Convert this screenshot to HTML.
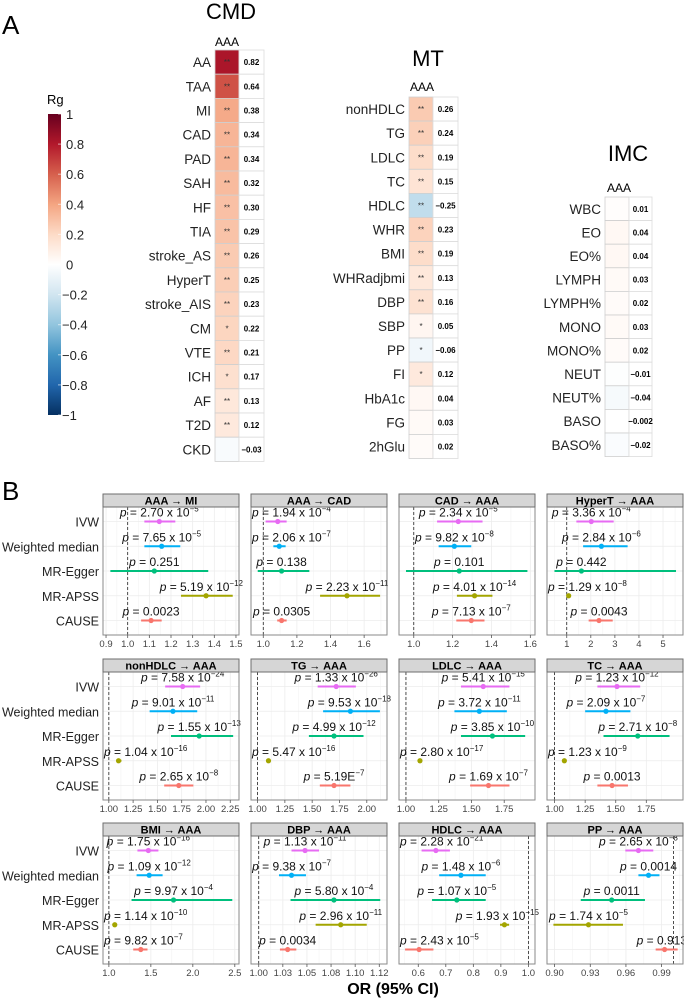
<!DOCTYPE html>
<html><head><meta charset="utf-8"><style>
html,body{margin:0;padding:0;background:#fff;}
svg{display:block;font-family:"Liberation Sans",Arial,sans-serif;}
</style></head><body>
<svg id="fig" width="684" height="1000" viewBox="0 0 684 1000" xmlns="http://www.w3.org/2000/svg">
<defs>
<linearGradient id="rgGrad" x1="0" y1="0" x2="0" y2="1">
<stop offset="0" stop-color="#67001f"/><stop offset="0.1" stop-color="#b2182b"/><stop offset="0.2" stop-color="#d6604d"/><stop offset="0.3" stop-color="#f4a582"/><stop offset="0.4" stop-color="#fddbc7"/><stop offset="0.5" stop-color="#ffffff"/><stop offset="0.6" stop-color="#d1e5f0"/><stop offset="0.7" stop-color="#92c5de"/><stop offset="0.8" stop-color="#4393c3"/><stop offset="0.9" stop-color="#2166ac"/><stop offset="1" stop-color="#053061"/>
</linearGradient>
</defs>
<text x="2" y="34" font-size="26">A</text>
<text x="2" y="500" font-size="26">B</text>
<text x="47" y="104" font-size="13">Rg</text>
<rect x="48" y="114" width="13" height="301" fill="url(#rgGrad)"/>
<g id="cbTicks"></g>
<g id="heat"></g>
<g id="forest"></g>
<text x="393" y="994" font-size="16" font-weight="bold" text-anchor="middle">OR (95% CI)</text>
</svg>
<script>
// ---------- heatmap data ----------
const cmdTraits=["AA","TAA","MI","CAD","PAD","SAH","HF","TIA","stroke_AS","HyperT","stroke_AIS","CM","VTE","ICH","AF","T2D","CKD"];
const cmdRg=[0.82,0.64,0.38,0.34,0.34,0.32,0.30,0.29,0.26,0.25,0.23,0.22,0.21,0.17,0.13,0.12,-0.03];
const cmdStars=["**","**","**","**","**","**","**","**","**","**","**","*","**","*","**","**",""];
const mtTraits=["nonHDLC","TG","LDLC","TC","HDLC","WHR","BMI","WHRadjbmi","DBP","SBP","PP","FI","HbA1c","FG","2hGlu"];
const mtRg=[0.26,0.24,0.19,0.15,-0.25,0.23,0.19,0.13,0.16,0.05,-0.06,0.12,0.04,0.03,0.02];
const mtStars=["**","**","**","**","**","**","**","**","**","*","*","*","","",""];
const imcTraits=["WBC","EO","EO%","LYMPH","LYMPH%","MONO","MONO%","NEUT","NEUT%","BASO","BASO%"];
const imcRg=[0.01,0.04,0.04,0.03,0.02,0.03,0.02,-0.01,-0.04,-0.002,-0.02];
const imcStars=["","","","","","","","","","",""];
const cbTickValues=[1,0.8,0.6,0.4,0.2,0,-0.2,-0.4,-0.6,-0.8,-1];

// ---------- forest data (order: IVW, Weighted median, MR-Egger, MR-APSS, CAUSE) ----------
const methods=["IVW","Weighted median","MR-Egger","MR-APSS","CAUSE"];
const panelTitles=["AAA → MI","AAA → CAD","CAD → AAA","HyperT → AAA","nonHDLC → AAA","TG → AAA","LDLC → AAA","TC → AAA","BMI → AAA","DBP → AAA","HDLC → AAA","PP → AAA"];
const estimates=[[1.146,1.157,1.123,1.362,1.108],[1.086,1.095,1.109,1.498,1.109],[1.229,1.209,1.234,1.313,1.296],[2.02,2.44,1.61,1.08,2.34],
[1.76,1.66,1.93,1.10,1.72],[1.72,1.85,1.70,1.10,1.70],[1.59,1.56,1.66,1.107,1.63],[1.51,1.42,1.68,1.08,1.47],
[1.47,1.48,1.77,1.07,1.38],[1.048,1.034,1.078,1.085,1.030],[0.664,0.755,0.74,0.913,0.603],[0.9705,0.979,0.948,0.9285,0.9925]];
const lowerCI=[[1.077,1.077,0.92,1.246,1.062],[1.014,1.06,0.967,1.338,1.083],[1.12,1.128,0.96,1.222,1.219],[1.40,1.68,0.49,1.03,1.91],
[1.58,1.42,1.64,1.08,1.57],[1.55,1.60,1.47,1.08,1.57],[1.42,1.37,1.42,1.09,1.49],[1.35,1.25,1.40,1.065,1.35],
[1.34,1.33,1.27,1.05,1.29],[1.034,1.021,1.033,1.059,1.022],[0.612,0.676,0.65,0.897,0.552],[0.9595,0.9705,0.922,0.899,0.985]];
const upperCI=[[1.22,1.243,1.372,1.485,1.157],[1.139,1.133,1.274,1.695,1.139],[1.354,1.296,1.585,1.405,1.364],[2.95,3.53,5.54,1.14,2.91],
[1.94,1.91,2.28,1.13,1.87],[1.90,2.12,1.97,1.12,1.85],[1.79,1.77,1.91,1.12,1.79],[1.70,1.62,1.94,1.095,1.60],
[1.59,1.64,2.47,1.09,1.46],[1.0625,1.049,1.126,1.112,1.039],[0.715,0.845,0.845,0.93,0.655],[0.983,0.9882,0.976,0.9575,1.0035]];
const pMantissa=[["2.70 x 10","7.65 x 10","0.251","5.19 x 10","0.0023"],["1.94 x 10","2.06 x 10","0.138","2.23 x 10","0.0305"],["2.34 x 10","9.82 x 10","0.101","4.01 x 10","7.13 x 10"],["3.36 x 10","2.84 x 10","0.442","1.29 x 10","0.0043"],
["7.58 x 10","9.01 x 10","1.55 x 10","1.04 x 10","2.65 x 10"],["1.33 x 10","9.53 x 10","4.99 x 10","5.47 x 10","5.19E"],["5.41 x 10","3.72 x 10","3.85 x 10","2.80 x 10","1.69 x 10"],["1.23 x 10","2.09 x 10","2.71 x 10","1.23 x 10","0.0013"],
["1.75 x 10","1.09 x 10","9.97 x 10","1.14 x 10","9.82 x 10"],["1.13 x 10","9.38 x 10","5.80 x 10","2.96 x 10","0.0034"],["2.28 x 10","1.48 x 10","1.07 x 10","1.93 x 10","2.43 x 10"],["2.65 x 10","0.0014","0.0011","1.74 x 10","0.913"]];
const pExponent=[["−5","−5","","−12",""],["−4","−7","","−11",""],["−5","−8","","−14","−7"],["−4","−6","","−8",""],
["−24","−11","−13","−16","−8"],["−26","−18","−12","−16","−7"],["−15","−11","−10","−17","−7"],["−12","−7","−8","−9",""],
["−16","−12","−4","−10","−7"],["−11","−7","−4","−11",""],["−21","−6","−5","−15","−5"],["−8","","","−5",""]];
const tickValues=[[0.9,1.0,1.1,1.2,1.3,1.4,1.5],[1.0,1.2,1.4,1.6],[1.0,1.2,1.4,1.6],[1,2,3,4,5],
[1,1.25,1.5,1.75,2,2.25],[1,1.25,1.5,1.75,2],[1,1.25,1.5,1.75],[1,1.25,1.5,1.75],
[1,1.5,2,2.5],[1,1.025,1.05,1.075,1.1,1.125],[0.6,0.7,0.8,0.9,1.0],[0.9,0.93,0.96,0.99]];
const tickLabels=[["0.9","1.0","1.1","1.2","1.3","1.4","1.5"],["1.0","1.2","1.4","1.6"],["1.0","1.2","1.4","1.6"],["1","2","3","4","5"],
["1.00","1.25","1.50","1.75","2.00","2.25"],["1.00","1.25","1.50","1.75","2.00"],["1.00","1.25","1.50","1.75"],["1.00","1.25","1.50","1.75"],
["1.0","1.5","2.0","2.5"],["1.00","1.03","1.05","1.08","1.10","1.12"],["0.6","0.7","0.8","0.9","1.0"],["0.90","0.93","0.96","0.99"]];
const axisDomains=[[0.886,1.514],[0.927,1.736],[0.924,1.624],[0.18,5.83],[0.94,2.34],[0.94,2.185],[0.947,1.985],[0.938,2.05],[0.93,2.55],[0.992,1.133],[0.53,1.024],[0.8936,1.008]];

const NS="http://www.w3.org/2000/svg";
function mk(tag,attrs,parent){const e=document.createElementNS(NS,tag);for(const k in attrs)e.setAttribute(k,attrs[k]);if(parent)parent.appendChild(e);return e;}
const stops=[[1,[103,0,31]],[0.8,[178,24,43]],[0.6,[214,96,77]],[0.4,[244,165,130]],[0.2,[253,219,199]],[0,[255,255,255]],[-0.2,[209,229,240]],[-0.4,[146,197,222]],[-0.6,[67,147,195]],[-0.8,[33,102,172]],[-1,[5,48,97]]];
function rgColor(v){for(let i=0;i<stops.length-1;i++){const a=stops[i],b=stops[i+1];if(v<=a[0]&&v>=b[0]){const t=(a[0]-v)/(a[0]-b[0]);const c=a[1].map((x,j)=>Math.round(x+(b[1][j]-x)*t));return "rgb("+c.join(",")+")";}}return "#fff";}
function fmt(v){let s=Math.abs(v)<0.01&&v!==0?v.toFixed(3):v.toFixed(2);return s.replace("-","−");}

// colorbar ticks
const cbG=document.getElementById("cbTicks");
cbTickValues.forEach(v=>{
  const y=114+(1-v)/2*301;
  const tk=mk("line",{x1:58,x2:61,y1:y,y2:y,stroke:"#fff","stroke-width":1,"stroke-opacity":0.6},cbG);
  
  
  const t=mk("text",{x:v<0?62:66,y:y+5,"font-size":13,fill:"#222"},cbG);
  
  
  t.textContent=String(v).replace("-","−");
});

// heatmaps
const heat=document.getElementById("heat");
function drawHeat(name,title,tx,ty,cellX,top,rowH,valW,aaaX,aaaY,traits,vals,stars){
  const g=mk("g",{},heat);
  
  
  const tt=mk("text",{x:tx,y:ty,"font-size":22,"text-anchor":"middle"},g);
  
  
  tt.textContent=title;
  const ta=mk("text",{x:aaaX,y:aaaY,"font-size":12,"text-anchor":"middle"},g);
  
  
  ta.textContent="AAA";
  traits.forEach((tr,i)=>{
    const y=top+i*rowH;
    const lab=mk("text",{x:cellX-4,y:y+rowH/2+5,"font-size":13.5,"text-anchor":"end",fill:"#222"},g);
    
    
    lab.textContent=tr;
    const c=mk("rect",{x:cellX,y:y,width:24,height:rowH,fill:rgColor(vals[i]),stroke:"#cfcfcf","stroke-width":0.8},g);
    
    
    const vr=mk("rect",{x:cellX+24,y:y,width:valW,height:rowH,fill:"#fff",stroke:"#dcdcdc","stroke-width":0.8},g);
    
    
    if(stars[i]){const s=mk("text",{x:cellX+12,y:y+rowH/2+3,"font-size":8,"text-anchor":"middle",fill:"#333"},g);
      
      
      s.textContent=stars[i];}
    const vt=mk("text",{x:cellX+24+valW/2,y:y+rowH/2+3,"font-size":8,"font-weight":"bold","text-anchor":"middle"},g);
    
    
    vt.textContent=fmt(vals[i]);
  });
}
drawHeat("cmd","CMD",231,19,215,50,24.2,25,227,46,cmdTraits,cmdRg,cmdStars);
drawHeat("mt","MT",428,66,409,97,24.1,25,422,91,mtTraits,mtRg,mtStars);
drawHeat("imc","IMC",628,161,605,197,23.6,23,619,192,imcTraits,imcRg,imcStars);

// forest plots
const forest=document.getElementById("forest");
const colX=[103,251,399,547], rowTop=[494,659,823], PW=136, SH=13, PH=128;
const mColors=["#e76bf3","#00b0f6","#00bf7d","#a3a500","#f8766d"];
rowTop.forEach(rt=>{
  methods.forEach((m,i)=>{
    const t=mk("text",{x:99,y:rt+SH+14.5+i*24.75+5,"font-size":12.5,"text-anchor":"end",fill:"#222"},forest);
    
    
    t.textContent=m;
  });
});
panelTitles.forEach((title,p)=>{
  const px=colX[p%4], top=rowTop[Math.floor(p/4)], pt=top+SH;
  const [d0,d1]=axisDomains[p];
  const sx=v=>px+(v-d0)/(d1-d0)*PW;
  const g=mk("g",{},forest);
  
  
  mk("rect",{x:px,y:pt,width:PW,height:PH,fill:"#fff"},g);
  const tv=tickValues[p];
  const grid=[];
  tv.forEach((v,i)=>{grid.push([v,0.8]);if(i<tv.length-1)grid.push([(v+tv[i+1])/2,0.4]);});
  grid.push([tv[0]-(tv[1]-tv[0])/2,0.4]);grid.push([tv[tv.length-1]+(tv[1]-tv[0])/2,0.4]);
  grid.forEach(([v,w])=>{const x=sx(v);if(x>px&&x<px+PW){mk("line",{x1:x,x2:x,y1:pt,y2:pt+PH,stroke:"#ececec","stroke-width":w},g);}});
  methods.forEach((m,i)=>{const y=pt+14.5+i*24.75;mk("line",{x1:px,x2:px+PW,y1:y,y2:y,stroke:"#ececec","stroke-width":0.8},g);});
  const x1=sx(1);
  if(x1>=px&&x1<=px+PW){const dl=mk("line",{x1:x1,x2:x1,y1:pt,y2:pt+PH,stroke:"#222","stroke-width":0.8,"stroke-dasharray":"3,2"},g);
    
    }
  methods.forEach((m,i)=>{
    const y=pt+14.5+i*24.75;
    const ci=mk("line",{x1:sx(lowerCI[p][i]),x2:sx(upperCI[p][i]),y1:y,y2:y,stroke:mColors[i],"stroke-width":2},g);
    
    
    const dot=mk("circle",{cx:sx(estimates[p][i]),cy:y,r:2.6,fill:mColors[i]},g);
    
    
    const t=mk("text",{x:0,y:y-5,"font-size":12,fill:"#111"},g);
    
    
    const ts1=mk("tspan",{"font-style":"italic"},t);ts1.textContent="p";
    const ts2=mk("tspan",{},t);ts2.textContent=" = "+pMantissa[p][i];
    if(pExponent[p][i]){const ts3=mk("tspan",{"font-size":8,dy:-5},t);ts3.textContent=pExponent[p][i];}
    const w=t.getComputedTextLength();
    let cx=sx(estimates[p][i]);
    let left=cx-w/2;
    left=Math.max(px+1,Math.min(left,px+PW-w+4));
    t.setAttribute("x",left);
  });
  mk("rect",{x:px,y:pt,width:PW,height:PH,fill:"none",stroke:"#8a8a8a","stroke-width":1},g);
  const st=mk("rect",{x:px,y:top,width:PW,height:SH,fill:"#d6d6d6",stroke:"#6e6e6e","stroke-width":1},g);
  
  
  const sttx=mk("text",{x:px+PW/2,y:top+10.5,"font-size":11,"font-weight":"bold","text-anchor":"middle"},g);
  
  
  sttx.textContent=title;
  tv.forEach((v,i)=>{
    const x=sx(v);
    mk("line",{x1:x,x2:x,y1:pt+PH,y2:pt+PH+3,stroke:"#555","stroke-width":0.8},g);
    const tl=mk("text",{x:x,y:pt+PH+12,"font-size":9.5,"text-anchor":"middle",fill:"#444"},g);
    
    
    tl.textContent=tickLabels[p][i];
  });
});
</script>
</body></html>
